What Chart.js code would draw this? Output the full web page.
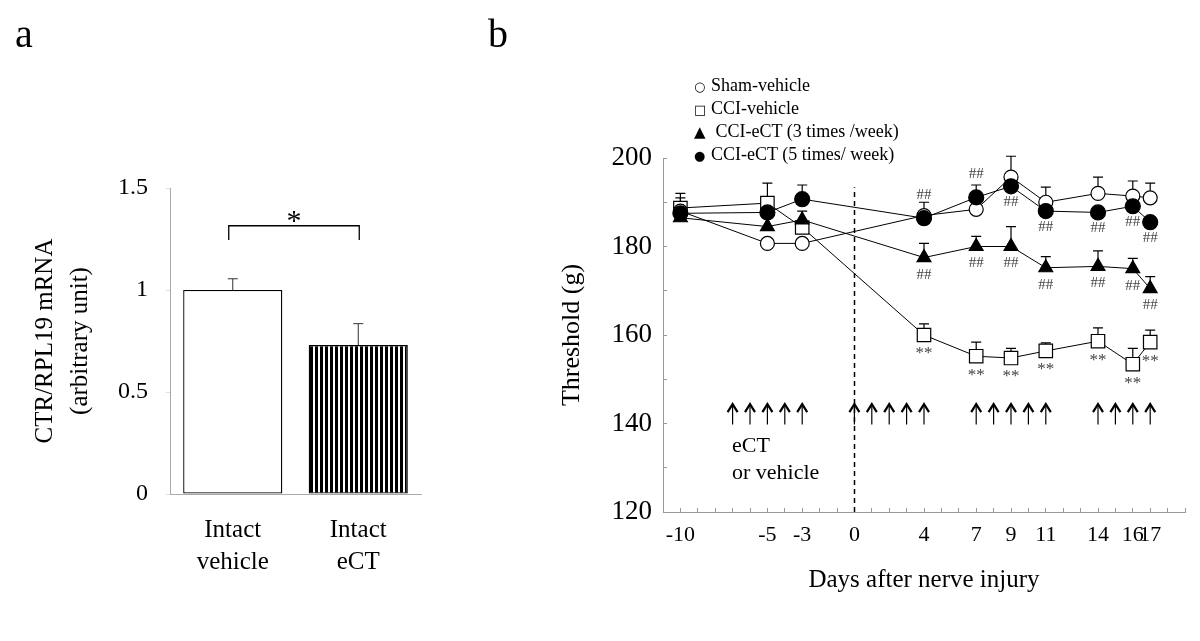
<!DOCTYPE html>
<html>
<head>
<meta charset="utf-8">
<script src="https://cdn.jsdelivr.net/npm/chart.js@4.4.0/dist/chart.umd.min.js"></script>
<style>
  html, body { margin: 0; padding: 0; background: #fff; }
  #wrap { position: relative; width: 1200px; height: 641px; font-family: "Liberation Serif", serif; color: #000; }
  canvas { position: absolute; top: 0; }
  #chartA { left: 0; }
  #chartB { left: 470px; }
  .tag { position: absolute; top: 10px; font-size: 40px; }
  .leg { position: absolute; left: 694px; font-size: 18px; line-height: 22px; white-space: pre; }
  .leg span { display: inline-block; width: 17px; font-family: "DejaVu Sans", sans-serif; font-size: 13px; }
  .note { position: absolute; left: 732px; font-size: 22px; line-height: 27px; }
</style>
</head>
<body>
<div id="wrap">
  <canvas id="chartA" width="470" height="641"></canvas>
  <canvas id="chartB" width="730" height="641"></canvas>
  <div class="tag" style="left:15px">a</div>
  <div class="tag" style="left:488px">b</div>
  <div class="leg" style="top:74px"><span>○</span>Sham-vehicle</div>
  <div class="leg" style="top:97px"><span>□</span>CCI-vehicle</div>
  <div class="leg" style="top:120px"><span style="font-size:15px">▲</span> CCI-eCT (3 times /week)</div>
  <div class="leg" style="top:143px"><span>●</span>CCI-eCT (5 times/ week)</div>
  <div class="note" style="top:431px">eCT<br>or vehicle</div>
</div>
<script>
const SERIF = "'Liberation Serif', 'Times New Roman', serif";

// panel a
const catsA = [["Intact", "vehicle"], ["Intact", "eCT"]];
const meanA = [1.0, 0.73];
const semA = [0.055, 0.105];

// panel b
const days = [-10, -5, -3, 4, 7, 9, 11, 14, 16, 17];
const dayLabels = [-10, -5, -3, 0, 4, 7, 9, 11, 14, 16, 17];
const sham = [188, 180.7, 180.7, 187, 188.4, 195.7, 190, 192, 191.4, 191];
const shamErr = [3, 1, 1, 3, 1.5, 4.7, 3.4, 3.7, 3.4, 3.3];
const cciVeh = [188.7, 189.8, 184.3, 160, 155.2, 154.8, 156.4, 158.6, 153.4, 158.4];
const cciVehErr = [3.3, 4.5, 1.5, 2.5, 3.2, 2.2, 1.8, 3, 3.6, 2.7];
const ect3 = [186.5, 184.5, 186, 177.5, 180, 180, 175.2, 175.5, 175, 170.5];
const ect3Err = [2.5, 2, 2, 3.2, 2.3, 4.5, 2.5, 3.5, 2.3, 2.7];
const ect5 = [187.5, 187.7, 190.7, 186.4, 191.1, 193.6, 188, 187.7, 189.1, 185.5];
const ect5Err = [2, 1.5, 3.2, 1.5, 2.8, 1.5, 1, 1, 1, 1];

// significance marks
const hash5Above = [4, 7];
const hash5Below = [9, 11, 14, 16, 17];
const hash3Below = [4, 7, 9, 11, 14, 16, 17];
const starVeh = [4, 7, 9, 11, 14, 16, 17];

// injection days (arrows)
const arrowDays = [-7, -6, -5, -4, -3, 0, 1, 2, 3, 4, 7, 8, 9, 10, 11, 14, 15, 16, 17];

// ---------- panel a ----------
const ctxA = document.getElementById("chartA").getContext("2d");

function stripes(ctx) {
    const c = document.createElement("canvas");
    c.width = 5; c.height = 8;
    const g = c.getContext("2d");
    g.fillStyle = "#fff"; g.fillRect(0, 0, 5, 8);
    g.fillStyle = "#000"; g.fillRect(0, 0, 3, 8);
    return ctx.createPattern(c, "repeat");
}

const barExtras = {
    id: "barExtras",
    afterDatasetsDraw(chart) {
        const { ctx, scales: { y } } = chart;
        const bars = chart.getDatasetMeta(0).data;
        ctx.save();
        ctx.strokeStyle = "#333";
        ctx.lineWidth = 1;
        bars.forEach((b, i) => {
            const yt = y.getPixelForValue(meanA[i] + semA[i]);
            ctx.beginPath();
            ctx.moveTo(b.x, b.y); ctx.lineTo(b.x, yt);
            ctx.moveTo(b.x - 5, yt); ctx.lineTo(b.x + 5, yt);
            ctx.stroke();
        });
        // bracket
        const yb = y.getPixelForValue(1.315);
        const yl = y.getPixelForValue(1.245);
        const x1 = bars[0].x - 4, x2 = bars[1].x + 1;
        ctx.strokeStyle = "#000";
        ctx.lineWidth = 1.3;
        ctx.beginPath();
        ctx.moveTo(x1, yl); ctx.lineTo(x1, yb); ctx.lineTo(x2, yb); ctx.lineTo(x2, yl);
        ctx.stroke();
        ctx.fillStyle = "#000";
        ctx.font = "30px " + SERIF;
        ctx.textAlign = "center";
        ctx.textBaseline = "middle";
        ctx.fillText("*", (x1 + x2) / 2, yb - 4);
        ctx.restore();
    }
};

new Chart(ctxA, {
    type: "bar",
    data: {
        labels: catsA,
        datasets: [{
            data: meanA,
            backgroundColor: ["#fff", stripes(ctxA)],
            borderColor: "#000",
            borderWidth: 1.3,
            borderSkipped: false,
            barPercentage: 0.79,
            categoryPercentage: 1
        }]
    },
    options: {
        responsive: false,
        animation: false,
        layout: { padding: { left: 20, top: 188, right: 49, bottom: 47 } },
        plugins: { legend: { display: false }, tooltip: { enabled: false } },
        scales: {
            x: {
                grid: { drawOnChartArea: false, drawTicks: false },
                border: { color: "#aaa", width: 1 },
                ticks: { color: "#000", font: { family: SERIF, size: 25, lineHeight: 1.28 }, padding: 20 },
                afterFit: s => { s.height = 100; }
            },
            y: {
                min: 0, max: 1.5,
                ticks: {
                    stepSize: 0.5, color: "#000", font: { family: SERIF, size: 24 }, padding: 18,
                    callback: v => String(v)
                },
                grid: { drawOnChartArea: false, tickLength: 4, color: "#ddd" },
                border: { color: "#aaa", width: 1 },
                title: {
                    display: true,
                    text: ["CTR/RPL19 mRNA", "(arbitrary unit)"],
                    color: "#000",
                    font: { family: SERIF, size: 25, lineHeight: 1.4 },
                    padding: { top: 8, bottom: 0 }
                },
                afterFit: s => { s.width = 150; }
            }
        }
    },
    plugins: [barExtras]
});

// ---------- panel b ----------
const ctxB = document.getElementById("chartB").getContext("2d");

function pts(vals) {
    return days.map((d, i) => ({ x: d, y: vals[i] }));
}

const errorBars = {
    id: "errorBars",
    beforeDatasetsDraw(chart) {
        const { ctx, scales: { x, y } } = chart;
        ctx.save();
        ctx.strokeStyle = "#000";
        ctx.lineWidth = 1;

        // dashed line at injury day
        const x0 = Math.round(x.getPixelForValue(0)) + 0.5;
        ctx.setLineDash([5, 4]);
        ctx.lineWidth = 1.5;
        ctx.beginPath();
        ctx.moveTo(x0, y.getPixelForValue(120));
        ctx.lineTo(x0, y.getPixelForValue(193.4));
        ctx.stroke();
        ctx.setLineDash([]);

        // arrows
        const yTop = y.getPixelForValue(144.6), yBot = y.getPixelForValue(139.8);
        arrowDays.forEach(d => {
            const ax = x.getPixelForValue(d);
            ctx.lineWidth = 1.2;
            ctx.beginPath();
            ctx.moveTo(ax, yBot); ctx.lineTo(ax, yTop + 2);
            ctx.stroke();
            ctx.lineWidth = 2.2;
            ctx.beginPath();
            ctx.moveTo(ax - 5, yTop + 9); ctx.lineTo(ax, yTop + 1); ctx.lineTo(ax + 5, yTop + 9);
            ctx.stroke();
        });

        // error bars (upper only)
        ctx.lineWidth = 1.2;
        chart.data.datasets.forEach((ds, i) => {
            chart.getDatasetMeta(i).data.forEach((p, j) => {
                const yt = y.getPixelForValue(ds.data[j].y + ds.errors[j]);
                ctx.beginPath();
                ctx.moveTo(p.x, p.y); ctx.lineTo(p.x, yt);
                ctx.moveTo(p.x - 5, yt); ctx.lineTo(p.x + 5, yt);
                ctx.stroke();
            });
        });
        ctx.restore();
    },
    afterDatasetsDraw(chart) {
        const { ctx, scales: { x, y } } = chart;
        ctx.save();
        ctx.textAlign = "center";
        ctx.textBaseline = "middle";
        const mark = (d, vals, txt, dy) => {
            const i = days.indexOf(d);
            ctx.fillText(txt, x.getPixelForValue(d), y.getPixelForValue(vals[i]) + dy);
        };
        ctx.fillStyle = "#444";
        ctx.font = "15px " + SERIF;
        hash5Above.forEach(d => mark(d, ect5, "##", -23));
        hash5Below.forEach(d => mark(d, ect5, "##", 16));
        hash3Below.forEach(d => mark(d, ect3, "##", 17));
        ctx.font = "17px " + SERIF;
        starVeh.forEach(d => mark(d, cciVeh, "**", 19));
        ctx.restore();
    }
};

new Chart(ctxB, {
    type: "line",
    data: {
        datasets: [
            {
                label: "CCI-eCT (5 times/ week)",
                data: pts(ect5), errors: ect5Err,
                pointStyle: "circle", pointRadius: 7.5,
                pointBackgroundColor: "#000", pointBorderColor: "#000"
            },
            {
                label: "Sham-vehicle",
                data: pts(sham), errors: shamErr,
                pointStyle: "circle", pointRadius: 7,
                pointBackgroundColor: "#fff", pointBorderColor: "#000"
            },
            {
                label: "CCI-eCT (3 times /week)",
                data: pts(ect3), errors: ect3Err,
                pointStyle: "triangle", pointRadius: 8,
                pointBackgroundColor: "#000", pointBorderColor: "#000"
            },
            {
                label: "CCI-vehicle",
                data: pts(cciVeh), errors: cciVehErr,
                pointStyle: "rect", pointRadius: 9.5,
                pointBackgroundColor: "#fff", pointBorderColor: "#000"
            }
        ].map(ds => Object.assign(ds, {
            borderColor: "#000", borderWidth: 1, pointBorderWidth: 1.2, tension: 0
        }))
    },
    options: {
        responsive: false,
        animation: false,
        layout: { padding: { left: 87, top: 158, right: 15, bottom: 40 } },
        plugins: { legend: { display: false }, tooltip: { enabled: false } },
        scales: {
            x: {
                type: "linear",
                min: -11, max: 19,
                ticks: {
                    stepSize: 1, autoSkip: false, maxRotation: 0, minRotation: 0,
                    color: "#000", font: { family: SERIF, size: 22 }, padding: 14,
                    callback: v => dayLabels.includes(v) ? String(v) : ""
                },
                grid: { drawOnChartArea: false, tickLength: -4, color: "#999" },
                border: { color: "#999", width: 1 },
                title: {
                    display: true, text: "Days after nerve injury", color: "#000",
                    font: { family: SERIF, size: 25, lineHeight: 1.2 },
                    padding: { top: 0, bottom: 6 }
                },
                afterFit: s => { s.height = 89; }
            },
            y: {
                min: 120, max: 200,
                ticks: {
                    stepSize: 10, color: "#000", font: { family: SERIF, size: 27 }, padding: 15,
                    callback: v => v % 20 === 0 ? String(v) : ""
                },
                grid: { drawOnChartArea: false, tickLength: -4, color: "#999" },
                border: { color: "#999", width: 1 },
                title: {
                    display: true, text: "Threshold (g)", color: "#000",
                    font: { family: SERIF, size: 26, lineHeight: 1.2 },
                    padding: { top: 0, bottom: 0 }
                },
                afterFit: s => { s.width = 106; }
            }
        }
    },
    plugins: [errorBars]
});
</script>
</body>
</html>
